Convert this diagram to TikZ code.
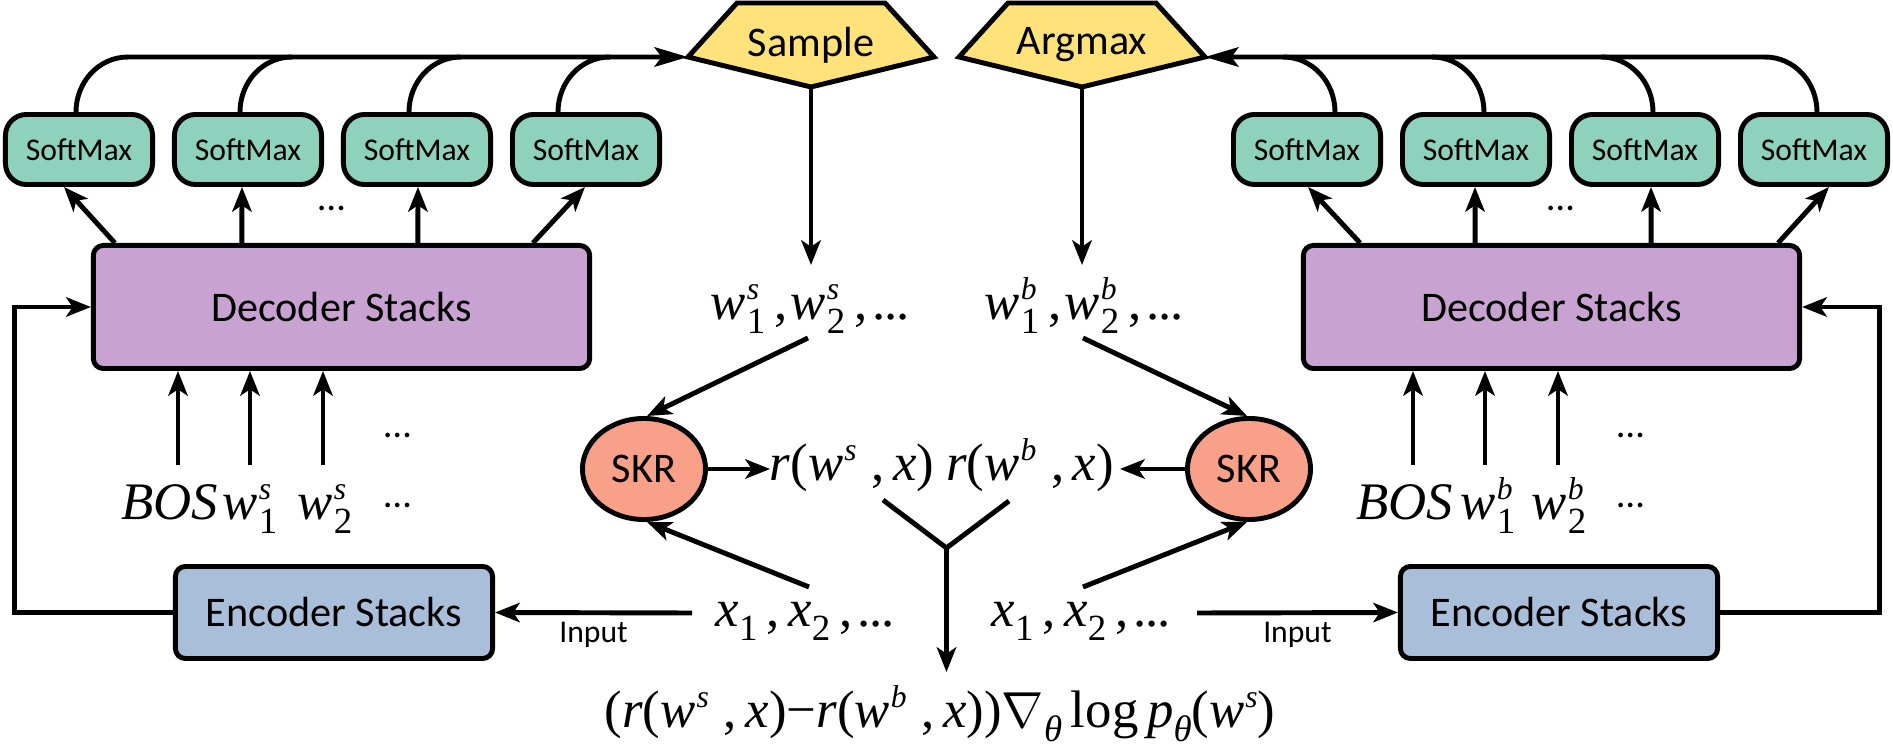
\documentclass[tikz,border=0pt]{standalone}
\usepackage{fontspec}
\setmainfont{Liberation Serif}
\newfontfamily\sanscal{Carlito}
\usetikzlibrary{arrows.meta,calc,shapes.geometric}
\definecolor{smgreen}{HTML}{8ED1BC}
\definecolor{decpurple}{HTML}{C8A3D1}
\definecolor{encblue}{HTML}{A9BED8}
\definecolor{skrsalmon}{HTML}{F8A088}
\definecolor{pentyellow}{HTML}{FFE27A}
% sub + sup stacked
\newcommand\mySubSup[2]{\begingroup\kern0.3pt\rlap{\raisebox{5.8pt}{\fontsize{9}{10}\selectfont\itshape #2}}\raisebox{-3.7pt}{\fontsize{10.5}{12}\selectfont\upshape #1}\endgroup}
\newcommand\mySup[1]{\begingroup\kern0.3pt\raisebox{5.8pt}{\fontsize{9}{10}\selectfont\itshape #1}\endgroup}
\newcommand\mySub[1]{\begingroup\raisebox{-3.7pt}{\fontsize{10.5}{12}\selectfont #1}\endgroup}
\newcommand\myVar[1]{{\itshape #1\/}}
\newcommand\myDots{.\kern-0.4pt.\kern-0.4pt.}
\begin{document}
\begin{tikzpicture}[x=0.01cm,y=-0.01cm,line width=1.4pt,
  arr/.style={-{Stealth[length=7pt,width=5.5pt,inset=1.8pt]}},
  longarr/.style={-{Stealth[length=9.5pt,width=5.5pt,inset=2pt]}},
  smbox/.style={draw,fill=smgreen,rounded corners=0.21cm,minimum width=1.47cm,minimum height=0.70cm,inner sep=0pt,font=\sanscal\fontsize{9}{11}\selectfont},
  decbox/.style={draw,fill=decpurple,rounded corners=0.1cm,minimum width=4.96cm,minimum height=1.23cm,inner sep=0pt,font=\sanscal\fontsize{12}{14}\selectfont},
  encbox/.style={draw,fill=encblue,rounded corners=0.1cm,minimum width=3.17cm,minimum height=0.92cm,inner sep=0pt,font=\sanscal\fontsize{12}{14}\selectfont},
  skr/.style={draw,fill=skrsalmon,ellipse,minimum width=1.23cm,minimum height=1.01cm,inner sep=0pt,font=\sanscal\fontsize{12}{14}\selectfont},
  pent/.style={draw,fill=pentyellow,line join=miter},
  lab/.style={inner sep=0pt,font=\sanscal\fontsize{12}{14}\selectfont},
  small/.style={inner sep=0pt,font=\sanscal\fontsize{9}{11}\selectfont},
  mth/.style={inner sep=0pt,font=\rmfamily\fontsize{15}{18}\selectfont},
  dots/.style={inner sep=0pt,font=\sanscal\fontsize{11}{13}\selectfont}]
\useasboundingbox (0,0) rectangle (1893,755);

% ---- pentagons ----
\coordinate (sampL) at (688,57);
\coordinate (sampB) at (811,87);
\draw[pent] (737,3) -- (885,3) -- (934,57) -- (sampB) -- (sampL) -- cycle;
\node[lab] (sample) at (811,45) {Sample};
\coordinate (argR) at (1205,57);
\coordinate (argB) at (1082,87);
\draw[pent] (1008,3) -- (1156,3) -- (argR) -- (argB) -- (959,57) -- cycle;
\node[lab] (argmax) at (1082,45) {Argmax};

% ---- SoftMax boxes ----
\foreach \i/\x in {1/79,2/248,3/417,4/586}{
  \node[smbox] (smL\i) at (\x,149.5) {SoftMax};}
\foreach \i/\x in {1/1307,2/1476,3/1645,4/1814}{
  \node[smbox] (smR\i) at (\x,149.5) {SoftMax};}

% ---- decoder / encoder ----
\node[decbox] (decL) at (341.5,307) {Decoder Stacks};
\node[decbox] (decR) at (1551.5,307) {Decoder Stacks};
\node[encbox] (encL) at (334,612.5) {Encoder Stacks};
\node[encbox] (encR) at (1559,612.5) {Encoder Stacks};

% ---- SKR ----
\node[skr] (skrL) at (644,469) {SKR};
\node[skr] (skrR) at (1249,469) {SKR};

% ---- math-like texts ----
\node[mth,anchor=base] (ws) at (810,320) {\myVar{w}\mySubSup{1}{s}\,,\kern1pt\myVar{w}\mySubSup{2}{s}\,,\kern1.5pt\myDots};
\node[mth,anchor=base] (wb) at (1084,320) {\myVar{w}\mySubSup{1}{b}\,,\kern1pt\myVar{w}\mySubSup{2}{b}\,,\kern1.5pt\myDots};
\node[mth,anchor=base] (rws) at (852,481) {\myVar{r}(\myVar{w}\mySup{s}\;,\,\myVar{x})};
\node[mth,anchor=base] (rwb) at (1030,481) {\myVar{r}(\myVar{w}\mySup{b}\;,\,\myVar{x})};
\node[mth,anchor=base] (xsL) at (805,627) {\myVar{x}\mySub{1}\,,\,\myVar{x}\mySub{2}\,,\kern1.5pt\myDots};
\node[mth,anchor=base] (xsR) at (1081,627) {\myVar{x}\mySub{1}\,,\,\myVar{x}\mySub{2}\,,\kern1.5pt\myDots};
\node[mth,anchor=base] (formula) at (940,728) {(\myVar{r}(\myVar{w}\mySup{s}\;,\,\myVar{x})−\myVar{r}(\myVar{w}\mySup{b}\;,\,\myVar{x}))$\nabla$\mySub{\itshape θ}\,log\,\myVar{p}\mySub{\itshape θ}(\myVar{w}\mySup{s})};

\node[mth,anchor=base] (bosL) at (170,520) {\myVar{BOS}};
\node[mth,anchor=base] (w1L) at (250,520) {\myVar{w}\mySubSup{1}{s}};
\node[mth,anchor=base] (w2L) at (325,520) {\myVar{w}\mySubSup{2}{s}};
\node[mth,anchor=base] (bosR) at (1405,520) {\myVar{BOS}};
\node[mth,anchor=base] (w1R) at (1488,520) {\myVar{w}\mySubSup{1}{b}};
\node[mth,anchor=base] (w2R) at (1559,520) {\myVar{w}\mySubSup{2}{b}};

\node[dots] (dotsL1) at (332,208) {…};
\node[dots] (dotsR1) at (1561,208) {…};
\node[dots] (dotsL2) at (398,435) {…};
\node[dots] (dotsL3) at (398,505) {…};
\node[dots] (dotsR2) at (1631,435) {…};
\node[dots] (dotsR3) at (1631,505) {…};

% ---- SoftMax -> Sample/Argmax ----
\foreach \i/\d in {1/-3,2/-8,3/-8,4/-28}{
  \draw ($(smL\i.north)+(\d,0)$) to[out=90,in=180] ($(smL\i.north)+(\d+52,-55)$);}
\draw[longarr] ($(smL1.north)+(49,-55)$) -- (sampL);
\foreach \i/\d in {4/3,3/8,2/8,1/28}{
  \draw ($(smR\i.north)+(\d,0)$) to[out=90,in=0] ($(smR\i.north)+(\d-52,-55)$);}
\draw[longarr] ($(smR4.north)+(-49,-55)$) -- (argR);

% ---- decoder -> SoftMax ----
\draw[arr] ($(decL.north west)+(24,0)$) -- ($(smL1.south)+(-15,0)$);
\draw[arr] ($(decL.north west)+(151,0)$) -- ($(smL2.south)+(-6,0)$);
\draw[arr] ($(decL.north west)+(327,0)$) -- ($(smL3.south)+(1,0)$);
\draw[arr] ($(decL.north west)+(442,0)$) -- ($(smL4.south)+(-1,0)$);
\draw[arr] ($(decR.north east)+(-24,0)$) -- ($(smR4.south)+(15,0)$);
\draw[arr] ($(decR.north east)+(-151,0)$) -- ($(smR3.south)+(6,0)$);
\draw[arr] ($(decR.north east)+(-327,0)$) -- ($(smR2.south)+(-1,0)$);
\draw[arr] ($(decR.north east)+(-442,0)$) -- ($(smR1.south)+(1,0)$);

% ---- inputs -> decoder ----
\draw[arr] ($(bosL.base)+(8,-55)$) coordinate (iL1) -- (iL1 |- decL.south);
\draw[arr] ($(w1L.base)+(0,-55)$) coordinate (iL2) -- (iL2 |- decL.south);
\draw[arr] ($(w2L.base)+(-2,-55)$) coordinate (iL3) -- (iL3 |- decL.south);
\draw[arr] ($(bosR.base)+(8,-55)$) coordinate (iR1) -- (iR1 |- decR.south);
\draw[arr] ($(w1R.base)+(-3,-55)$) coordinate (iR2) -- (iR2 |- decR.south);
\draw[arr] ($(w2R.base)+(-1,-55)$) coordinate (iR3) -- (iR3 |- decR.south);

% ---- Sample / Argmax -> words ----
\draw[arr] (sampB) -- ($(ws.base)+(1,-55)$);
\draw[arr] (argB) -- ($(wb.base)+(-2,-55)$);

% ---- words / x -> SKR ----
\draw[arr] ($(ws.base)+(-2,18)$) -- ($(skrL.north)+(3,0)$);
\draw[arr] ($(wb.base)+(-1,18)$) -- ($(skrR.north)+(-2,0)$);
\draw[arr] ($(xsL.base)+(4,-40)$) -- ($(skrL.south)+(3,0)$);
\draw[arr] ($(xsR.base)+(2,-40)$) -- ($(skrR.south)+(-2,0)$);

% ---- SKR -> rewards ----
\draw[arr] (skrL.east) -- ($(rws.base)+(-82,-12)$);
\draw[arr] (skrR.west) -- ($(rwb.base)+(90,-12)$);

% ---- Y junction -> formula ----
\coordinate (yj) at (946.5,548);
\draw ($(rws.base)+(31,19)$) -- (yj) -- ($(rwb.base)+(-21,20)$);
\draw[arr] (yj) -- (yj |- 0,672);

% ---- input arrows ----
\draw[arr] ($(xsL.base)+(-113,-14)$) -- node[small,yshift=-0.22cm]{Input} (encL.east);
\draw[arr] ($(xsR.base)+(116,-14)$) -- node[small,yshift=-0.22cm]{Input} (encR.west);

% ---- feedback ----
\draw[arr] (encL.west) -- ++(-158,0) |- (decL.west);
\draw[arr] (encR.east) -- ++(159,0) |- (decR.east);
\end{tikzpicture}
\end{document}
